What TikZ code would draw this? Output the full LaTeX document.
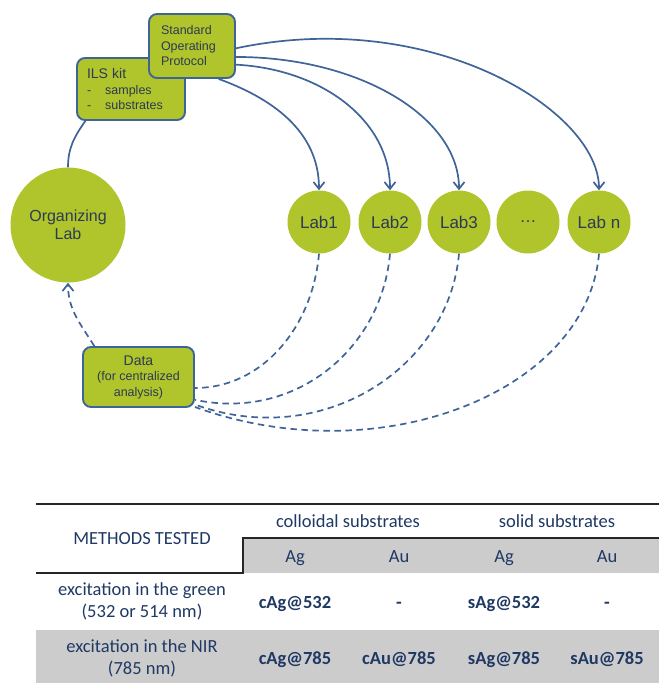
\documentclass[tikz,border=0pt]{standalone}
\usepackage{fontspec}
\setmainfont{Liberation Sans}
\newfontfamily\tabfont{Carlito}
\usepackage{xcolor}
\usepackage{tikz}
\usetikzlibrary{arrows.meta, positioning}

\definecolor{labgreen}{RGB}{176,196,44}
\definecolor{lineblue}{RGB}{62,100,152}
\definecolor{labtext}{RGB}{44,58,84}
\definecolor{tabtext}{RGB}{31,56,100}
\definecolor{tabgray}{RGB}{204,204,204}

\begin{document}
\begin{tikzpicture}[x=1pt, y=1pt, >={Straight Barb[length=7pt, width=11pt]}]
		\tikzstyle{labnode} = [circle, fill=labgreen, minimum size=63pt, inner sep=0pt, text=labtext, font=\fontsize{17}{19}\selectfont]
		\tikzstyle{kitbox} = [draw=lineblue, line width=1.9pt, fill=labgreen, rectangle, rounded corners=8pt, text=labtext, font=\fontsize{12.5}{15.5}\selectfont]
		\tikzstyle{flowarrow} = [draw=lineblue, line width=1.7pt, ->]
		\tikzstyle{backline} = [draw=lineblue, line width=1.7pt, dash pattern=on 6.5pt off 4.5pt]
		\tikzstyle{tabcell} = [text=tabtext, font=\tabfont\fontsize{18.5}{22}\selectfont, text height=12pt, text depth=0pt, inner sep=0pt]
		\tikzstyle{tabbold} = [tabcell, font=\tabfont\bfseries\fontsize{18.5}{22}\selectfont]
		\tikzstyle{tabhead} = [text=tabtext, font=\tabfont\fontsize{18.5}{22}\selectfont, align=center, inner sep=0pt]
		\tikzstyle{tabrule} = [draw=black!85, line width=1.6pt]

		\useasboundingbox (0, 0) rectangle (659, -683);

		% flow chart
		\node[labnode, minimum size=115pt, align=center, font=\fontsize{16}{18}\selectfont] at (68, -225) (org) {Organizing\\Lab};
		\node[kitbox, minimum width=108pt, minimum height=62pt, text width=88pt, align=left] at (131, -89) (kit) {{\fontsize{14}{16}\selectfont ILS kit}\\-\hspace{14pt}samples\\-\hspace{14pt}substrates};
		\node[kitbox, minimum width=86pt, minimum height=64pt, text width=62pt, align=left] at (192, -46) (sop) {Standard\\Operating\\Protocol};
		\node[kitbox, minimum width=111pt, minimum height=60pt, align=center] at (138.5, -377) (data) {{\fontsize{14}{16}\selectfont Data}\\(for centralized\\analysis)};

		\node[labnode] at (319, -222) (l1) {Lab1};
		\node[labnode] at (390, -222) (l2) {Lab2};
		\node[labnode] at (459, -222) (l3) {Lab3};
		\node[labnode] at (528, -222) (ldots) {\ldots};
		\node[labnode] at (599, -222) (ln) {Lab n};

		\draw [lineblue, line width=1.7pt] (kit.215) to[out=-125, in=90] (org.north);
		\draw [flowarrow] (sop.-51) to[out=-20, in=90, out distance=55pt, in distance=60pt] (l1.north);
		\draw [flowarrow] (sop.-23) to[out=-3, in=90, out distance=86pt, in distance=70pt] (l2.north);
		\draw [flowarrow] (sop.-14) to[out=0, in=90, out distance=124pt, in distance=73pt] (l3.north);
		\draw [flowarrow] (sop.-3) to[out=12, in=90, out distance=200pt, in distance=80pt] (ln.north);

		\draw [backline, ->] (data.145) to[out=122, in=-90] (org.south);
		\draw [backline] (l1.south) to[out=-95, in=0, out distance=73pt, in distance=68pt] (data.-11);
		\draw [backline] (l2.south) to[out=-95, in=-12, out distance=95pt, in distance=103pt] (data.-22);
		\draw [backline] (l3.south) to[out=-95, in=-20, out distance=115pt, in distance=135pt] (data.-26);
		\draw [backline] (ln.south) to[out=-95, in=-20, out distance=140pt, in distance=195pt] (data.-28);

		% table
		\fill[tabgray] (243, -538) rectangle (659, -573);
		\fill[tabgray] (36, -630) rectangle (659, -683);
		\draw[tabrule] (36, -504) -- (659, -504);
		\draw[tabrule] (36, -573) -- (243, -573) -- (243, -538) -- (659, -538);

		\node[tabcell] at (142, -538) (mt) {METHODS TESTED};
		\node[tabcell] at (348, -521) (coll) {colloidal substrates};
		\node[tabcell] at (557, -521) (solid) {solid substrates};

		\node[tabcell] at (295, -556) (cag) {Ag};
		\node[tabcell] at (399, -556) (cau) {Au};
		\node[tabcell] at (504, -556) (sag) {Ag};
		\node[tabcell] at (607, -556) (sau) {Au};

		\node[tabhead] at (142, -601) (green) {excitation in the green\\(532 or 514 nm)};
		\node[tabbold] at (295, -602) (g1) {cAg@532};
		\node[tabbold] at (399, -602) (g2) {-};
		\node[tabbold] at (504, -602) (g3) {sAg@532};
		\node[tabbold] at (607, -602) (g4) {-};

		\node[tabhead] at (142, -658) (nir) {excitation in the NIR\\(785 nm)};
		\node[tabbold] at (295, -658) (n1) {cAg@785};
		\node[tabbold] at (399, -658) (n2) {cAu@785};
		\node[tabbold] at (504, -658) (n3) {sAg@785};
		\node[tabbold] at (607, -658) (n4) {sAu@785};
\end{tikzpicture}
\end{document}
